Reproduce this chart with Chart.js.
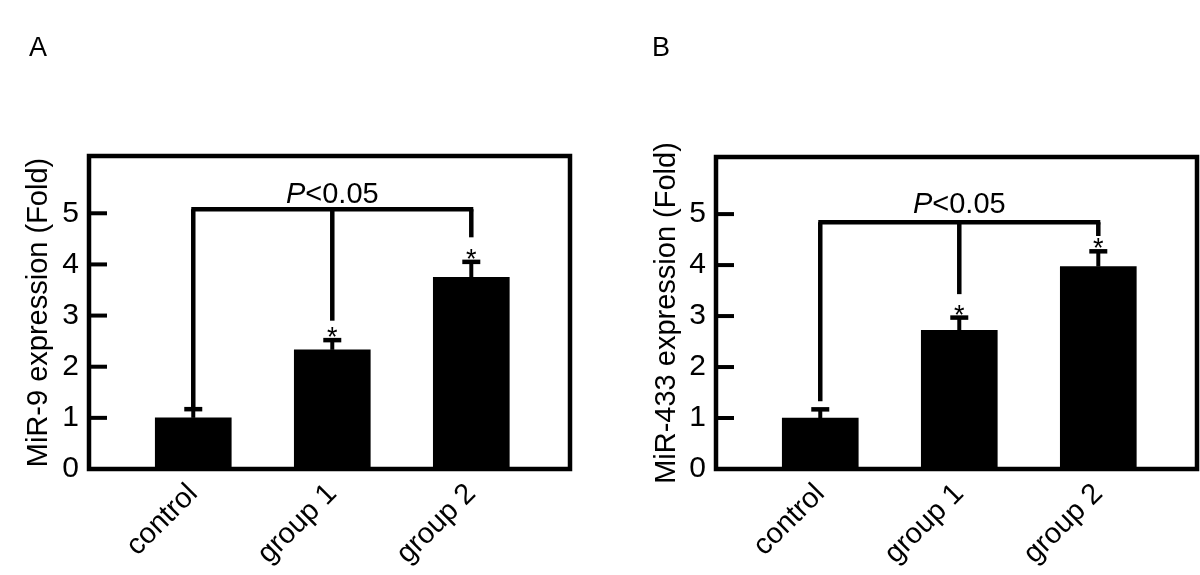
<!DOCTYPE html>
<html lang="en">
<head>
<meta charset="UTF-8">
<title>MiR-9 and MiR-433 expression</title>
<style>
    body {
        margin: 0;
        background: #fff;
        font-family: Arial, "Liberation Sans", sans-serif;
        overflow: hidden;
    }
    .panel {
        position: absolute;
        top: 0;
        width: 600px;
        height: 575px;
    }
    #panelA { left: 0; }
    #panelB { left: 600px; }
    .letter {
        position: absolute;
        top: 32px;
        font-size: 27px;
        color: #000;
    }
</style>
</head>
<body>

<div class="panel" id="panelA"><canvas id="chartA"></canvas></div>
<div class="panel" id="panelB"><canvas id="chartB"></canvas></div>
<div class="letter" style="left:29px">A</div>
<div class="letter" style="left:652px">B</div>

<script src="https://cdn.jsdelivr.net/npm/chart.js"></script>
<script>
// categories and y ticks
var groups = ['control', 'group 1', 'group 2'];
var yTicks = [0, 1, 2, 3, 4, 5];

// panel A: MiR-9
var mir9Mean = [1.00, 2.33, 3.75];
var mir9ErrTop = [1.17, 2.52, 4.05];
var mir9Bracket = 5.08;          // height of the horizontal bracket
var mir9BracketEnds = [1.2, 2.9, 4.53];
var mir9PLevel = 5.2;            // baseline of the P<0.05 text

// panel B: MiR-433
var mir433Mean = [1.00, 2.72, 3.97];
var mir433ErrTop = [1.17, 2.97, 4.27];
var mir433Bracket = 4.84;
var mir433BracketEnds = [1.33, 3.43, 4.57];
var mir433PLevel = 5.02;

var FONT = 'Arial, "Liberation Sans", sans-serif';

// box, inward ticks, error bars, stars and the significance bracket
var decorations = {
    id: 'decorations',
    afterDatasetsDraw: function (chart, args, opts) {
        var ctx = chart.ctx;
        var area = chart.chartArea;
        var xs = chart.scales.x;
        var ys = chart.scales.y;
        ctx.save();
        ctx.strokeStyle = '#000';
        ctx.fillStyle = '#000';
        ctx.lineCap = 'butt';

        // frame
        ctx.lineWidth = 4.5;
        ctx.strokeRect(area.left, area.top, area.right - area.left, area.bottom - area.top);

        // inward ticks
        ctx.lineWidth = 4;
        yTicks.forEach(function (v) {
            var py = ys.getPixelForValue(v);
            ctx.beginPath();
            ctx.moveTo(area.left, py);
            ctx.lineTo(area.left + 18, py);
            ctx.stroke();
        });

        // error bars + asterisks
        ctx.font = '27px ' + FONT;
        ctx.textAlign = 'center';
        ctx.textBaseline = 'alphabetic';
        opts.mean.forEach(function (m, i) {
            var px = xs.getPixelForValue(i);
            var top = ys.getPixelForValue(opts.err[i]);
            ctx.lineWidth = 4;
            ctx.beginPath();
            ctx.moveTo(px, ys.getPixelForValue(m));
            ctx.lineTo(px, top);
            ctx.stroke();
            ctx.lineWidth = 4.5;
            ctx.beginPath();
            ctx.moveTo(px - 9, top);
            ctx.lineTo(px + 9, top);
            ctx.stroke();
            if (i > 0) {
                ctx.fillText('*', px, top + 6);
            }
        });

        // bracket
        var by = ys.getPixelForValue(opts.bracket);
        ctx.lineWidth = 4.5;
        ctx.beginPath();
        ctx.moveTo(xs.getPixelForValue(0) - 2, by);
        ctx.lineTo(xs.getPixelForValue(2) + 2, by);
        ctx.stroke();
        opts.ends.forEach(function (e, i) {
            var px = xs.getPixelForValue(i);
            ctx.beginPath();
            ctx.moveTo(px, by);
            ctx.lineTo(px, ys.getPixelForValue(e));
            ctx.stroke();
        });

        // P<0.05 with italic P
        var cx = xs.getPixelForValue(1);
        var py = ys.getPixelForValue(opts.pLevel);
        ctx.font = 'italic 29px ' + FONT;
        var wP = ctx.measureText('P').width;
        ctx.font = '29px ' + FONT;
        var wRest = ctx.measureText('<0.05').width;
        var x0 = cx - (wP + wRest) / 2;
        ctx.textAlign = 'left';
        ctx.font = 'italic 29px ' + FONT;
        ctx.fillText('P', x0, py);
        ctx.font = '29px ' + FONT;
        ctx.fillText('<0.05', x0 + wP, py);
        ctx.restore();
    }
};

function makeChart(id, yTitle, mean, err, bracket, ends, pLevel, box) {
    var points = mean.map(function (v, i) { return { x: i, y: v }; });
    return new Chart(document.getElementById(id).getContext('2d'), {
        type: 'bar',
        data: {
            datasets: [{
                data: points,
                backgroundColor: '#000',
                borderWidth: 0,
                barThickness: 76
            }]
        },
        options: {
            responsive: true,
            maintainAspectRatio: false,
            animation: false,
            layout: {
                padding: { left: 0, right: box.right, top: box.top, bottom: 0 }
            },
            scales: {
                x: {
                    type: 'linear',
                    offset: false,
                    min: -0.75,
                    max: 2.71,
                    grid: { display: false, drawTicks: false, offset: false },
                    border: { display: false },
                    afterBuildTicks: function (s) {
                        s.ticks = groups.map(function (g, i) { return { value: i }; });
                    },
                    afterFit: function (s) { s.height = 106; },
                    ticks: {
                        minRotation: 45,
                        maxRotation: 45,
                        padding: 8,
                        color: '#000',
                        font: { size: 29, family: FONT },
                        callback: function (v) { return groups[v]; }
                    }
                },
                y: {
                    min: 0,
                    max: 6.12,
                    grid: { display: false, drawTicks: false },
                    border: { display: false },
                    afterBuildTicks: function (s) {
                        s.ticks = yTicks.map(function (v) { return { value: v }; });
                    },
                    afterFit: function (s) { s.width = box.left; },
                    ticks: {
                        padding: 10,
                        color: '#000',
                        font: { size: 30, family: FONT }
                    },
                    title: {
                        display: true,
                        text: yTitle,
                        color: '#000',
                        font: { size: 29, family: FONT },
                        padding: { top: box.titlePad, bottom: 0 }
                    }
                }
            },
            plugins: {
                legend: { display: false },
                tooltip: { enabled: false },
                decorations: { mean: mean, err: err, bracket: bracket, ends: ends, pLevel: pLevel }
            }
        },
        plugins: [decorations]
    });
}

makeChart('chartA', 'MiR-9 expression (Fold)', mir9Mean, mir9ErrTop, mir9Bracket,
    mir9BracketEnds, mir9PLevel, { left: 89, right: 30, top: 156, titlePad: 22 });
makeChart('chartB', 'MiR-433 expression (Fold)', mir433Mean, mir433ErrTop, mir433Bracket,
    mir433BracketEnds, mir433PLevel, { left: 116, right: 3, top: 157, titlePad: 50 });
</script>
</body>
</html>
